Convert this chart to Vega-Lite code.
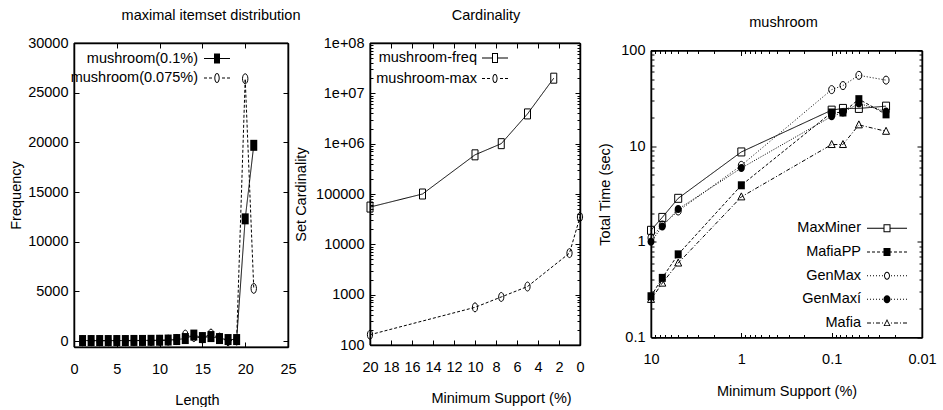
{
  "$schema": "https://vega.github.io/schema/vega-lite/v6.json",
  "background": "white",
  "padding": {"left": 8, "top": 7, "right": 0, "bottom": 0},
  "config": {
    "font": "Liberation Sans",
    "view": {"stroke": null},
    "axis": {
      "domain": false, "grid": false, "ticks": true,
      "tickColor": "black", "tickWidth": 1, "tickSize": -5,
      "labelFont": "Liberation Sans", "labelFontSize": 14.5, "labelColor": "black",
      "labelFlush": false, "labelOverlap": false,
      "titleFont": "Liberation Sans", "titleFontSize": 14.5, "titleFontWeight": "normal", "titleColor": "black"
    },
    "axisBottom": {"labelPadding": 20, "titlePadding": 18},
    "axisLeft": {"labelPadding": 11},
    "title": {"font": "Liberation Sans", "fontSize": 14.5, "fontWeight": "normal", "color": "black", "frame": "group", "anchor": "middle", "baseline": "alphabetic", "offset": 12},
    "legend": {"orient": "none", "labelAlign": "right", "labelBaseline": "middle", "labelFont": "Liberation Sans", "labelFontSize": 14.5, "labelColor": "black", "symbolSize": 4, "symbolStrokeWidth": 0, "symbolOpacity": 1, "padding": 0}
  },
  "bounds": "flush",
  "spacing": 82,
  "resolve": {"scale": {"shape": "independent", "fill": "independent", "strokeDash": "independent"}, "legend": {"shape": "independent", "fill": "independent", "strokeDash": "independent"}},
  "hconcat": [
    {
      "width": 214, "height": 304,
      "title": {"text": "maximal itemset distribution", "dx": 30},
      "data": {"values": [
        {"L": 1, "F": 50, "s": "mushroom(0.1%)"}, {"L": 2, "F": 50, "s": "mushroom(0.1%)"}, {"L": 3, "F": 50, "s": "mushroom(0.1%)"}, {"L": 4, "F": 50, "s": "mushroom(0.1%)"}, {"L": 5, "F": 50, "s": "mushroom(0.1%)"}, {"L": 6, "F": 50, "s": "mushroom(0.1%)"}, {"L": 7, "F": 60, "s": "mushroom(0.1%)"}, {"L": 8, "F": 60, "s": "mushroom(0.1%)"}, {"L": 9, "F": 70, "s": "mushroom(0.1%)"}, {"L": 10, "F": 80, "s": "mushroom(0.1%)"}, {"L": 11, "F": 100, "s": "mushroom(0.1%)"}, {"L": 12, "F": 150, "s": "mushroom(0.1%)"}, {"L": 13, "F": 250, "s": "mushroom(0.1%)"}, {"L": 14, "F": 600, "s": "mushroom(0.1%)"}, {"L": 15, "F": 350, "s": "mushroom(0.1%)"}, {"L": 16, "F": 450, "s": "mushroom(0.1%)"}, {"L": 17, "F": 250, "s": "mushroom(0.1%)"}, {"L": 18, "F": 150, "s": "mushroom(0.1%)"}, {"L": 19, "F": 150, "s": "mushroom(0.1%)"}, {"L": 20, "F": 12300, "s": "mushroom(0.1%)"}, {"L": 21, "F": 19700, "s": "mushroom(0.1%)"},
        {"L": 1, "F": 30, "s": "mushroom(0.075%)"}, {"L": 2, "F": 30, "s": "mushroom(0.075%)"}, {"L": 3, "F": 30, "s": "mushroom(0.075%)"}, {"L": 4, "F": 30, "s": "mushroom(0.075%)"}, {"L": 5, "F": 40, "s": "mushroom(0.075%)"}, {"L": 6, "F": 40, "s": "mushroom(0.075%)"}, {"L": 7, "F": 40, "s": "mushroom(0.075%)"}, {"L": 8, "F": 50, "s": "mushroom(0.075%)"}, {"L": 9, "F": 50, "s": "mushroom(0.075%)"}, {"L": 10, "F": 60, "s": "mushroom(0.075%)"}, {"L": 11, "F": 90, "s": "mushroom(0.075%)"}, {"L": 12, "F": 150, "s": "mushroom(0.075%)"}, {"L": 13, "F": 600, "s": "mushroom(0.075%)"}, {"L": 14, "F": 450, "s": "mushroom(0.075%)"}, {"L": 15, "F": 300, "s": "mushroom(0.075%)"}, {"L": 16, "F": 700, "s": "mushroom(0.075%)"}, {"L": 17, "F": 300, "s": "mushroom(0.075%)"}, {"L": 18, "F": 30, "s": "mushroom(0.075%)"}, {"L": 19, "F": 100, "s": "mushroom(0.075%)"}, {"L": 20, "F": 26400, "s": "mushroom(0.075%)"}, {"L": 21, "F": 5300, "s": "mushroom(0.075%)"}
      ]},
      "layer": [
        {"data": {"values": [{}]}, "mark": {"type": "rule", "color": "black", "strokeWidth": 1}, "encoding": {
          "x": {"datum": 0, "type": "quantitative", "axis": {"orient": "bottom", "grid": true, "gridColor": "black", "gridWidth": 1.5, "gridOpacity": 1, "ticks": false, "labels": false, "domain": false, "title": null, "values": [0, 25]}},
          "y": {"datum": -600, "type": "quantitative", "axis": {"orient": "left", "grid": true, "gridColor": "black", "gridWidth": 1.5, "gridOpacity": 1, "ticks": false, "labels": false, "domain": false, "title": null, "values": [-600, 30000]}},
          "y2": {"datum": 30000}}},
        {"data": {"values": [{}]}, "mark": {"type": "rule", "color": "black", "strokeWidth": 1}, "encoding": {"x": {"datum": 25, "type": "quantitative", "axis": null}, "y": {"datum": -600, "type": "quantitative", "axis": null}, "y2": {"datum": 30000}}},
        {"data": {"values": [{}]}, "mark": {"type": "rule", "color": "black", "strokeWidth": 1}, "encoding": {"y": {"datum": -600, "type": "quantitative", "axis": null}, "x": {"datum": 0, "type": "quantitative", "axis": null}, "x2": {"datum": 25}}},
        {"data": {"values": [{}]}, "mark": {"type": "rule", "color": "black", "strokeWidth": 1}, "encoding": {"y": {"datum": 30000, "type": "quantitative", "axis": null}, "x": {"datum": 0, "type": "quantitative", "axis": null}, "x2": {"datum": 25}}},
        {
          "mark": {"type": "line", "color": "black", "strokeWidth": 1},
          "encoding": {
            "x": {"field": "L", "type": "quantitative", "scale": {"domain": [0, 25], "nice": false, "zero": false}, "axis": {"orient": "bottom", "title": "Length", "values": [0, 5, 10, 15, 20, 25], "format": "d", "titleX": 123}},
            "y": {"field": "F", "type": "quantitative", "scale": {"domain": [-600, 30000], "nice": false, "zero": false}, "axis": {"orient": "left", "title": "Frequency", "values": [0, 5000, 10000, 15000, 20000, 25000, 30000], "format": "d", "titlePadding": 4}},
            "detail": {"field": "s"},
            "strokeDash": {"field": "s", "type": "nominal", "scale": {"domain": ["mushroom(0.075%)", "mushroom(0.1%)"], "range": [[3, 2], [1, 0]]}, "legend": null}
          }
        },
        {
          "transform": [{"filter": "datum.s === 'mushroom(0.1%)'"}],
          "mark": {"type": "point", "shape": "M-3.5,-5.5H3.5V5.5H-3.5Z", "size": 4, "filled": true, "color": "black", "opacity": 1},
          "encoding": {
            "x": {"field": "L", "type": "quantitative", "axis": {"orient": "top", "labels": false, "title": null, "values": [0, 5, 10, 15, 20, 25]}},
            "y": {"field": "F", "type": "quantitative", "axis": {"orient": "right", "labels": false, "title": null, "values": [0, 5000, 10000, 15000, 20000, 25000, 30000]}}
          }
        },
        {
          "transform": [{"filter": "datum.s === 'mushroom(0.075%)'"}],
          "mark": {"type": "point", "shape": "M0,-5A2.7,5 0 1,1 0,5A2.7,5 0 1,1 0,-5Z", "size": 4, "filled": false, "color": "black", "strokeWidth": 1, "opacity": 1},
          "encoding": {
            "x": {"field": "L", "type": "quantitative", "axis": null},
            "y": {"field": "F", "type": "quantitative", "axis": null}
          }
        },
        {
          "transform": [{"filter": "false"}],
          "mark": {"type": "point", "size": 4, "filled": true, "color": "black", "strokeWidth": 0, "opacity": 1},
          "encoding": {
            "x": {"field": "L", "type": "quantitative", "axis": null},
            "y": {"field": "F", "type": "quantitative", "axis": null},
            "shape": {"field": "s", "type": "nominal", "scale": {"domain": ["mushroom(0.1%)", "mushroom(0.075%)"], "range": [
              "M-13,-0.5H13V0.5H-13ZM-3,-5H3V5H-3Z",
              "M-13,-0.5H-10V0.5H-13ZM-8,-0.5H-5V0.5H-8ZM5,-0.5H8V0.5H5ZM10,-0.5H13V0.5H10ZM0,-5A2.7,5 0 1,1 0,5A2.7,5 0 1,1 0,-5ZM0,-4A1.7,4 0 1,0 0,4A1.7,4 0 1,0 0,-4Z"
            ]}, "legend": {"title": null, "legendX": 135.75, "legendY": 8.25, "labelOffset": -26.25, "rowPadding": 4.5}},
            "fill": {"field": "s", "type": "nominal", "scale": {"domain": ["mushroom(0.1%)", "mushroom(0.075%)"], "range": ["black", "black"]}, "legend": {"title": null, "legendX": 135.75, "legendY": 8.25, "labelOffset": -26.25, "rowPadding": 4.5}}
          }
        }
      ]
    },
    {
      "bounds": "flush",
      "center": true,
      "spacing": 71,
      "resolve": {"scale": {"shape": "independent", "fill": "independent", "strokeDash": "independent"}, "legend": {"shape": "independent", "fill": "independent", "strokeDash": "independent"}},
      "hconcat": [
        {
          "width": 210, "height": 302,
          "title": {"text": "Cardinality", "dx": 11},
          "data": {"values": [
            {"sup": 20, "c": 55000, "s": "mushroom-freq"}, {"sup": 15, "c": 100000, "s": "mushroom-freq"}, {"sup": 10, "c": 600000, "s": "mushroom-freq"}, {"sup": 7.5, "c": 1000000, "s": "mushroom-freq"}, {"sup": 5, "c": 3900000, "s": "mushroom-freq"}, {"sup": 2.5, "c": 20000000, "s": "mushroom-freq"},
            {"sup": 20, "c": 160, "s": "mushroom-max"}, {"sup": 10, "c": 560, "s": "mushroom-max"}, {"sup": 7.5, "c": 900, "s": "mushroom-max"}, {"sup": 5, "c": 1450, "s": "mushroom-max"}, {"sup": 1, "c": 6700, "s": "mushroom-max"}, {"sup": 0, "c": 35000, "s": "mushroom-max"}
          ]},
          "layer": [
            {"data": {"values": [{}]}, "mark": {"type": "rule", "color": "black", "strokeWidth": 1}, "encoding": {
              "x": {"datum": 0, "type": "quantitative", "axis": {"orient": "bottom", "grid": true, "gridColor": "black", "gridWidth": 1.5, "gridOpacity": 1, "ticks": false, "labels": false, "domain": false, "title": null, "values": [0, 20]}},
              "y": {"datum": 100, "type": "quantitative", "axis": {"orient": "left", "grid": true, "gridColor": "black", "gridWidth": 1.5, "gridOpacity": 1, "ticks": false, "labels": false, "domain": false, "title": null, "values": [100, 100000000]}},
              "y2": {"datum": 100000000}}},
            {"data": {"values": [{}]}, "mark": {"type": "rule", "color": "black", "strokeWidth": 1}, "encoding": {"x": {"datum": 20, "type": "quantitative", "axis": null}, "y": {"datum": 100, "type": "quantitative", "axis": null}, "y2": {"datum": 100000000}}},
            {"data": {"values": [{}]}, "mark": {"type": "rule", "color": "black", "strokeWidth": 1}, "encoding": {"y": {"datum": 100, "type": "quantitative", "axis": null}, "x": {"datum": 0, "type": "quantitative", "axis": null}, "x2": {"datum": 20}}},
            {"data": {"values": [{}]}, "mark": {"type": "rule", "color": "black", "strokeWidth": 1}, "encoding": {"y": {"datum": 100000000, "type": "quantitative", "axis": null}, "x": {"datum": 0, "type": "quantitative", "axis": null}, "x2": {"datum": 20}}},
            {
              "mark": {"type": "line", "color": "black", "strokeWidth": 1},
              "encoding": {
                "x": {"field": "sup", "type": "quantitative", "scale": {"domain": [0, 20], "reverse": true, "nice": false, "zero": false}, "axis": {"orient": "bottom", "title": "Minimum Support (%)", "values": [0, 2, 4, 6, 8, 10, 12, 14, 16, 18, 20], "format": "d", "titleX": 131}},
                "y": {"field": "c", "type": "quantitative", "scale": {"type": "log", "domain": [100, 100000000], "nice": false}, "axis": {"orient": "left", "title": "Set Cardinality", "values": [100, 1000, 10000, 100000, 1000000, 10000000, 100000000], "labelExpr": "datum.value >= 1000000 ? '1e+0' + round(log(datum.value)/LN10) : format(datum.value, 'd')", "titlePadding": 7}},
                "detail": {"field": "s"},
                "strokeDash": {"field": "s", "type": "nominal", "scale": {"domain": ["mushroom-max", "mushroom-freq"], "range": [[3, 2], [1, 0]]}, "legend": null}
              }
            },
            {
              "transform": [{"filter": "datum.s === 'mushroom-freq'"}],
              "mark": {"type": "point", "shape": "M-3,-5H3V5H-3Z", "size": 4, "filled": false, "color": "black", "strokeWidth": 1, "opacity": 1},
              "encoding": {
                "x": {"field": "sup", "type": "quantitative", "axis": {"orient": "top", "labels": false, "title": null, "values": [0, 2, 4, 6, 8, 10, 12, 14, 16, 18, 20]}},
                "y": {"field": "c", "type": "quantitative", "axis": {"orient": "right", "labels": false, "title": null, "values": [100, 1000, 10000, 100000, 1000000, 10000000, 100000000]}}
              }
            },
            {
              "transform": [{"filter": "datum.s === 'mushroom-max'"}],
              "mark": {"type": "point", "shape": "M0,-4.5A2.6,4.5 0 1,1 0,4.5A2.6,4.5 0 1,1 0,-4.5Z", "size": 4, "filled": false, "color": "black", "strokeWidth": 1, "opacity": 1},
              "encoding": {
                "x": {"field": "sup", "type": "quantitative", "axis": null},
                "y": {"field": "c", "type": "quantitative", "axis": {"orient": "left", "labels": false, "title": null, "tickSize": -3, "values": [200, 300, 400, 500, 600, 700, 800, 900, 2000, 3000, 4000, 5000, 6000, 7000, 8000, 9000, 20000, 30000, 40000, 50000, 60000, 70000, 80000, 90000, 200000, 300000, 400000, 500000, 600000, 700000, 800000, 900000, 2000000, 3000000, 4000000, 5000000, 6000000, 7000000, 8000000, 9000000, 20000000, 30000000, 40000000, 50000000, 60000000, 70000000, 80000000, 90000000]}}
              }
            },
            {
              "transform": [{"filter": "false"}],
              "mark": {"type": "point", "size": 4, "filled": true, "color": "black", "strokeWidth": 0, "opacity": 1},
              "encoding": {
                "x": {"field": "sup", "type": "quantitative", "axis": null},
                "y": {"field": "c", "type": "quantitative", "axis": {"orient": "right", "labels": false, "title": null, "tickSize": -3, "values": [200, 300, 400, 500, 600, 700, 800, 900, 2000, 3000, 4000, 5000, 6000, 7000, 8000, 9000, 20000, 30000, 40000, 50000, 60000, 70000, 80000, 90000, 200000, 300000, 400000, 500000, 600000, 700000, 800000, 900000, 2000000, 3000000, 4000000, 5000000, 6000000, 7000000, 8000000, 9000000, 20000000, 30000000, 40000000, 50000000, 60000000, 70000000, 80000000, 90000000]}},
                "shape": {"field": "s", "type": "nominal", "scale": {"domain": ["mushroom-freq", "mushroom-max"], "range": [
                  "M-13,-0.5H-3V0.5H-13ZM3,-0.5H13V0.5H3ZM-3,-5H3V5H-3ZM-2,-4V4H2V-4Z",
                  "M-13,-0.5H-10V0.5H-13ZM-8,-0.5H-5V0.5H-8ZM5,-0.5H8V0.5H5ZM10,-0.5H13V0.5H10ZM0,-4.5A2.6,4.5 0 1,1 0,4.5A2.6,4.5 0 1,1 0,-4.5ZM0,-3.5A1.6,3.5 0 1,0 0,3.5A1.6,3.5 0 1,0 0,-3.5Z"
                ]}, "legend": {"title": null, "legendX": 117.75, "legendY": 7.75, "labelOffset": -25.25, "rowPadding": 5.5}},
                "fill": {"field": "s", "type": "nominal", "scale": {"domain": ["mushroom-freq", "mushroom-max"], "range": ["black", "black"]}, "legend": {"title": null, "legendX": 117.75, "legendY": 7.75, "labelOffset": -25.25, "rowPadding": 5.5}}
              }
            }
          ]
        },
        {
          "width": 271, "height": 287,
          "title": {"text": "mushroom", "dx": -3},
          "data": {"values": [
            {"sup": 10, "t": 1.32, "s": "MaxMiner"}, {"sup": 7.5, "t": 1.8, "s": "MaxMiner"}, {"sup": 5, "t": 2.85, "s": "MaxMiner"}, {"sup": 1, "t": 8.7, "s": "MaxMiner"}, {"sup": 0.1, "t": 23.8, "s": "MaxMiner"}, {"sup": 0.075, "t": 24.8, "s": "MaxMiner"}, {"sup": 0.05, "t": 24.8, "s": "MaxMiner"}, {"sup": 0.025, "t": 26.2, "s": "MaxMiner"},
            {"sup": 10, "t": 0.27, "s": "MafiaPP"}, {"sup": 7.5, "t": 0.42, "s": "MafiaPP"}, {"sup": 5, "t": 0.74, "s": "MafiaPP"}, {"sup": 1, "t": 3.9, "s": "MafiaPP"}, {"sup": 0.1, "t": 22.5, "s": "MafiaPP"}, {"sup": 0.075, "t": 22.5, "s": "MafiaPP"}, {"sup": 0.05, "t": 31, "s": "MafiaPP"}, {"sup": 0.025, "t": 21.5, "s": "MafiaPP"},
            {"sup": 10, "t": 1.1, "s": "GenMax"}, {"sup": 7.5, "t": 1.5, "s": "GenMax"}, {"sup": 5, "t": 2.1, "s": "GenMax"}, {"sup": 1, "t": 6.3, "s": "GenMax"}, {"sup": 0.1, "t": 39, "s": "GenMax"}, {"sup": 0.075, "t": 43, "s": "GenMax"}, {"sup": 0.05, "t": 55, "s": "GenMax"}, {"sup": 0.025, "t": 49, "s": "GenMax"},
            {"sup": 10, "t": 1.0, "s": "GenMaxí"}, {"sup": 7.5, "t": 1.45, "s": "GenMaxí"}, {"sup": 5, "t": 2.2, "s": "GenMaxí"}, {"sup": 1, "t": 5.9, "s": "GenMaxí"}, {"sup": 0.1, "t": 20.5, "s": "GenMaxí"}, {"sup": 0.075, "t": 22.5, "s": "GenMaxí"}, {"sup": 0.05, "t": 28, "s": "GenMaxí"}, {"sup": 0.025, "t": 23, "s": "GenMaxí"},
            {"sup": 10, "t": 0.25, "s": "Mafia"}, {"sup": 7.5, "t": 0.37, "s": "Mafia"}, {"sup": 5, "t": 0.6, "s": "Mafia"}, {"sup": 1, "t": 2.95, "s": "Mafia"}, {"sup": 0.1, "t": 10.4, "s": "Mafia"}, {"sup": 0.075, "t": 10.4, "s": "Mafia"}, {"sup": 0.05, "t": 16.7, "s": "Mafia"}, {"sup": 0.025, "t": 14.3, "s": "Mafia"}
          ]},
          "layer": [
            {"data": {"values": [{}]}, "mark": {"type": "rule", "color": "black", "strokeWidth": 1}, "encoding": {
              "x": {"datum": 0.01, "type": "quantitative", "axis": {"orient": "bottom", "grid": true, "gridColor": "black", "gridWidth": 1.5, "gridOpacity": 1, "ticks": false, "labels": false, "domain": false, "title": null, "values": [0.01, 10]}},
              "y": {"datum": 0.1, "type": "quantitative", "axis": {"orient": "left", "grid": true, "gridColor": "black", "gridWidth": 1.5, "gridOpacity": 1, "ticks": false, "labels": false, "domain": false, "title": null, "values": [0.1, 100]}},
              "y2": {"datum": 100}}},
            {"data": {"values": [{}]}, "mark": {"type": "rule", "color": "black", "strokeWidth": 1}, "encoding": {"x": {"datum": 10, "type": "quantitative", "axis": null}, "y": {"datum": 0.1, "type": "quantitative", "axis": null}, "y2": {"datum": 100}}},
            {"data": {"values": [{}]}, "mark": {"type": "rule", "color": "black", "strokeWidth": 1}, "encoding": {"y": {"datum": 0.1, "type": "quantitative", "axis": null}, "x": {"datum": 0.01, "type": "quantitative", "axis": null}, "x2": {"datum": 10}}},
            {"data": {"values": [{}]}, "mark": {"type": "rule", "color": "black", "strokeWidth": 1}, "encoding": {"y": {"datum": 100, "type": "quantitative", "axis": null}, "x": {"datum": 0.01, "type": "quantitative", "axis": null}, "x2": {"datum": 10}}},
            {
              "mark": {"type": "line", "color": "black", "strokeWidth": 1},
              "encoding": {
                "x": {"field": "sup", "type": "quantitative", "scale": {"type": "log", "domain": [0.01, 10], "reverse": true, "nice": false}, "axis": {"orient": "bottom", "title": "Minimum Support (%)", "values": [0.01, 0.1, 1, 10], "format": "~g"}},
                "y": {"field": "t", "type": "quantitative", "scale": {"type": "log", "domain": [0.1, 100], "nice": false}, "axis": {"orient": "left", "title": "Total Time (sec)", "values": [0.1, 1, 10, 100], "format": "~g", "titlePadding": 8}},
                "detail": {"field": "s"},
                "strokeDash": {"field": "s", "type": "nominal", "scale": {"domain": ["Mafia", "GenMaxí", "GenMax", "MafiaPP", "MaxMiner"], "range": [[4, 2, 1, 2], [1, 1.5], [1, 2], [3, 2], [1, 0]]}, "legend": null}
              }
            },
            {
              "transform": [{"filter": "datum.s === 'MaxMiner'"}],
              "mark": {"type": "point", "shape": "M-3.5,-4H3.5V4H-3.5Z", "size": 4, "filled": false, "color": "black", "strokeWidth": 1, "opacity": 1},
              "encoding": {
                "x": {"field": "sup", "type": "quantitative", "axis": {"orient": "top", "labels": false, "title": null, "values": [0.01, 0.1, 1, 10]}},
                "y": {"field": "t", "type": "quantitative", "axis": {"orient": "right", "labels": false, "title": null, "values": [0.1, 1, 10, 100]}}
              }
            },
            {
              "transform": [{"filter": "datum.s === 'MafiaPP'"}],
              "mark": {"type": "point", "shape": "M-3.5,-4H3.5V4H-3.5Z", "size": 4, "filled": true, "color": "black", "opacity": 1},
              "encoding": {
                "x": {"field": "sup", "type": "quantitative", "axis": {"orient": "bottom", "labels": false, "title": null, "tickSize": -3, "values": [0.02, 0.03, 0.04, 0.05, 0.06, 0.07, 0.08, 0.09, 0.2, 0.3, 0.4, 0.5, 0.6, 0.7, 0.8, 0.9, 2, 3, 4, 5, 6, 7, 8, 9]}},
                "y": {"field": "t", "type": "quantitative", "axis": {"orient": "left", "labels": false, "title": null, "tickSize": -3, "values": [0.2, 0.3, 0.4, 0.5, 0.6, 0.7, 0.8, 0.9, 2, 3, 4, 5, 6, 7, 8, 9, 20, 30, 40, 50, 60, 70, 80, 90]}}
              }
            },
            {
              "transform": [{"filter": "datum.s === 'GenMax'"}],
              "mark": {"type": "point", "shape": "M0,-4A3,4 0 1,1 0,4A3,4 0 1,1 0,-4Z", "size": 4, "filled": false, "color": "black", "strokeWidth": 1, "opacity": 1},
              "encoding": {
                "x": {"field": "sup", "type": "quantitative", "axis": {"orient": "top", "labels": false, "title": null, "tickSize": -3, "values": [0.02, 0.03, 0.04, 0.05, 0.06, 0.07, 0.08, 0.09, 0.2, 0.3, 0.4, 0.5, 0.6, 0.7, 0.8, 0.9, 2, 3, 4, 5, 6, 7, 8, 9]}},
                "y": {"field": "t", "type": "quantitative", "axis": {"orient": "right", "labels": false, "title": null, "tickSize": -3, "values": [0.2, 0.3, 0.4, 0.5, 0.6, 0.7, 0.8, 0.9, 2, 3, 4, 5, 6, 7, 8, 9, 20, 30, 40, 50, 60, 70, 80, 90]}}
              }
            },
            {
              "transform": [{"filter": "datum.s === 'GenMaxí'"}],
              "mark": {"type": "point", "shape": "M0,-4A3.5,4 0 1,1 0,4A3.5,4 0 1,1 0,-4Z", "size": 4, "filled": true, "color": "black", "opacity": 1},
              "encoding": {
                "x": {"field": "sup", "type": "quantitative", "axis": null},
                "y": {"field": "t", "type": "quantitative", "axis": null}
              }
            },
            {
              "transform": [{"filter": "datum.s === 'Mafia'"}],
              "mark": {"type": "point", "shape": "M0,-4L3.5,3L-3.5,3Z", "size": 4, "filled": false, "color": "black", "strokeWidth": 1, "opacity": 1},
              "encoding": {
                "x": {"field": "sup", "type": "quantitative", "axis": null},
                "y": {"field": "t", "type": "quantitative", "axis": null}
              }
            },
            {
              "transform": [{"filter": "false"}],
              "mark": {"type": "point", "size": 4, "filled": true, "color": "black", "strokeWidth": 0, "opacity": 1},
              "encoding": {
                "x": {"field": "sup", "type": "quantitative", "axis": null},
                "y": {"field": "t", "type": "quantitative", "axis": null},
                "shape": {"field": "s", "type": "nominal", "scale": {"domain": ["MaxMiner", "MafiaPP", "GenMax", "GenMaxí", "Mafia"], "range": [
                  "M-20,-0.5H-3.5V0.5H-20ZM3.5,-0.5H20V0.5H3.5ZM-3.5,-4H3.5V4H-3.5ZM-2.5,-3V3H2.5V-3Z",
                  "M-20,-0.5H-17V0.5H-20ZM-15,-0.5H-12V0.5H-15ZM-10,-0.5H-7V0.5H-10ZM-5,-0.5H-3V0.5H-5ZM3,-0.5H5V0.5H3ZM7,-0.5H10V0.5H7ZM12,-0.5H15V0.5H12ZM17,-0.5H20V0.5H17ZM-3.5,-4H3.5V4H-3.5Z",
                  "M-20,-0.5H-19V0.5H-20ZM-17,-0.5H-16V0.5H-17ZM-14,-0.5H-13V0.5H-14ZM-11,-0.5H-10V0.5H-11ZM-8,-0.5H-7V0.5H-8ZM-5,-0.5H-4V0.5H-5ZM4,-0.5H5V0.5H4ZM7,-0.5H8V0.5H7ZM10,-0.5H11V0.5H10ZM13,-0.5H14V0.5H13ZM16,-0.5H17V0.5H16ZM19,-0.5H20V0.5H19ZM0,-4A3,4 0 1,1 0,4A3,4 0 1,1 0,-4ZM0,-3A2,3 0 1,0 0,3A2,3 0 1,0 0,-3Z",
                  "M-20,-0.5H-19V0.5H-20ZM-17,-0.5H-16V0.5H-17ZM-14,-0.5H-13V0.5H-14ZM-11,-0.5H-10V0.5H-11ZM-8,-0.5H-7V0.5H-8ZM-5,-0.5H-4V0.5H-5ZM4,-0.5H5V0.5H4ZM7,-0.5H8V0.5H7ZM10,-0.5H11V0.5H10ZM13,-0.5H14V0.5H13ZM16,-0.5H17V0.5H16ZM19,-0.5H20V0.5H19ZM0,-4A3.5,4 0 1,1 0,4A3.5,4 0 1,1 0,-4Z",
                  "M-20,-0.5H-16V0.5H-20ZM-14,-0.5H-13V0.5H-14ZM-11,-0.5H-7V0.5H-11ZM-5,-0.5H-4V0.5H-5ZM4,-0.5H5V0.5H4ZM7,-0.5H11V0.5H7ZM13,-0.5H14V0.5H13ZM16,-0.5H20V0.5H16ZM0,-4L3.5,3L-3.5,3ZM0,-2L-2.2,2.1L2.2,2.1Z"
                ]}, "legend": {"title": null, "legendX": 228.75, "legendY": 170.5, "labelOffset": -33.25, "rowPadding": 8.7}},
                "fill": {"field": "s", "type": "nominal", "scale": {"domain": ["MaxMiner", "MafiaPP", "GenMax", "GenMaxí", "Mafia"], "range": ["black", "black", "black", "black", "black"]}, "legend": {"title": null, "legendX": 228.75, "legendY": 170.5, "labelOffset": -33.25, "rowPadding": 8.7}}
              }
            }
          ]
        }
      ]
    }
  ]
}
